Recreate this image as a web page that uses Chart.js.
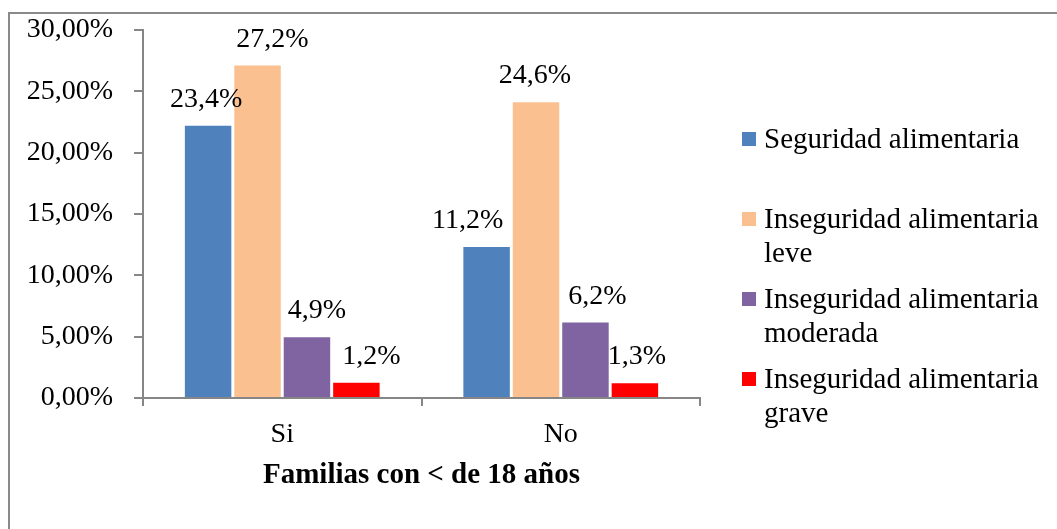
<!DOCTYPE html>
<html>
<head>
<meta charset="utf-8">
<script src="https://cdn.jsdelivr.net/npm/chart.js@4"></script>
<style>
  body { margin: 0; background: #fff; }
  #wrap { position: relative; width: 1057px; height: 529px; overflow: hidden; }
  #frame { position: absolute; left: 8px; top: 12px; width: 1100px; height: 600px; border: 2px solid #8a8a8a; box-sizing: border-box; }
  canvas { position: absolute; left: 0; top: 0; }
</style>
</head>
<body>
<div id="wrap">
  <div id="frame"></div>
  <canvas id="myChart" width="1057" height="529"></canvas>
</div>
<script>
const ctx = document.getElementById('myChart').getContext("2d");

const categories = ["Si", "No"];
const seriesNames = [
  ["Seguridad alimentaria"],
  ["Inseguridad alimentaria", "leve"],
  ["Inseguridad alimentaria", "moderada"],
  ["Inseguridad alimentaria", "grave"],
];
// bar heights as drawn (%)
const seguridad = [22.2, 12.3];
const leve = [27.1, 24.1];
const moderada = [4.95, 6.15];
const grave = [1.25, 1.2];
// label texts as printed on the chart
const seguridadText = ["23,4%", "11,2%"];
const leveText = ["27,2%", "24,6%"];
const moderadaText = ["4,9%", "6,2%"];
const graveText = ["1,2%", "1,3%"];
const yTicks = [0, 5, 10, 15, 20, 25, 30];

const colors = ["#4F81BD", "#FAC090", "#8064A2", "#FF0000"];
const labelTexts = [seguridadText, leveText, moderadaText, graveText];
// hand placed label nudges, like in the original
const labelShift = [[-2, -19], [15, -1], [10, 12], [15, 2]];

const serif = "'Liberation Serif', 'Times New Roman', serif";

// data labels
const valueLabels = {
  id: 'valueLabels',
  afterDatasetsDraw(chart) {
    const c = chart.ctx;
    c.save();
    c.font = "28px " + serif;
    c.fillStyle = "#000";
    c.textAlign = "center";
    c.textBaseline = "alphabetic";
    chart.data.datasets.forEach((ds, i) => {
      chart.getDatasetMeta(i).data.forEach((bar, j) => {
        c.fillText(labelTexts[i][j], bar.x + labelShift[i][j], bar.y - 19);
      });
    });
    c.restore();
  }
};

// legend on the right, with wrapped names
const sideLegend = {
  id: 'sideLegend',
  afterDraw(chart) {
    const c = chart.ctx;
    c.save();
    c.font = "29px " + serif;
    c.textBaseline = "middle";
    seriesNames.forEach((lines, i) => {
      const y = 140 + i * 80;
      c.fillStyle = colors[i];
      c.fillRect(742, y - 8, 14, 14);
      c.fillStyle = "#000";
      lines.forEach((t, k) => c.fillText(t, 764, y + k * 34));
    });
    c.restore();
  }
};

const data = {
  labels: categories,
  datasets: [seguridad, leve, moderada, grave].map((vals, i) => ({
    label: seriesNames[i].join(" "),
    data: vals,
    backgroundColor: colors[i],
    categoryPercentage: 0.71,
    barPercentage: 0.94,
  })),
};

const config = {
  type: 'bar',
  data: data,
  plugins: [valueLabels, sideLegend],
  options: {
    responsive: false,
    animation: false,
    layout: { padding: { left: 0, top: 30, right: 357, bottom: 0 } },
    plugins: {
      legend: { display: false },
      tooltip: { enabled: false },
    },
    scales: {
      x: {
        afterFit: (s) => { s.height = 131; },
        grid: { drawOnChartArea: false, offset: true, tickLength: 8, color: "#868686", lineWidth: 2 },
        border: { color: "#868686", width: 2 },
        ticks: { color: "#000", font: { family: serif, size: 28 }, padding: 12 },
        title: {
          display: true,
          text: "Familias con < de 18 años",
          color: "#000",
          font: { family: serif, size: 29, weight: 'bold' },
          padding: { bottom: 36 },
        },
      },
      y: {
        min: 0,
        max: 30,
        afterFit: (s) => { s.width = 143; s.paddingTop = 0; s.paddingBottom = 0; },
        afterBuildTicks: (s) => { s.ticks = yTicks.map(v => ({ value: v })); },
        grid: { drawOnChartArea: false, tickLength: 9, color: "#868686", lineWidth: 2 },
        border: { color: "#868686", width: 2 },
        ticks: {
          color: "#000",
          font: { family: serif, size: 28 },
          padding: 21,
          callback: function (value) {
            return value.toFixed(2).replace('.', ',') + '%';
          },
        },
      },
    },
  },
};

const myChart = new Chart(ctx, config);
</script>
</body>
</html>
